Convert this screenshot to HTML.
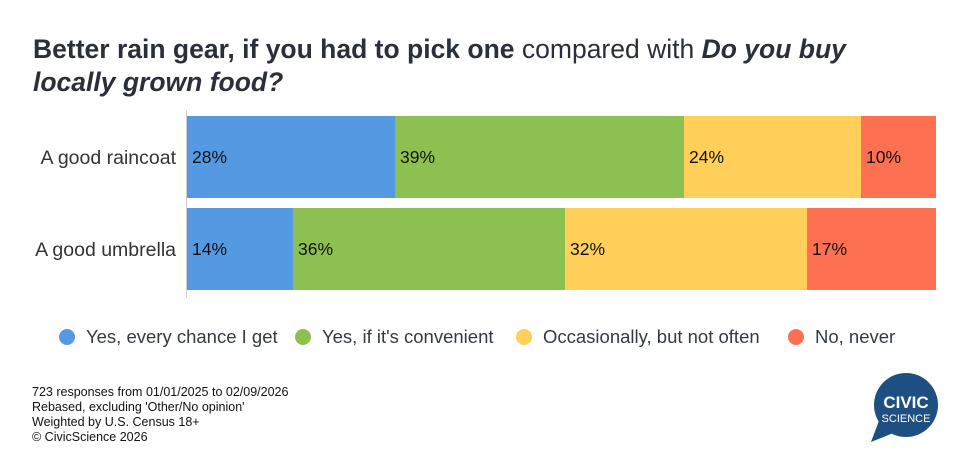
<!DOCTYPE html>
<html><head><meta charset="utf-8"><style>
body{margin:0;background:#fff;}
svg{display:block;font-family:"Liberation Sans",Arial,sans-serif;}
</style></head><body>
<svg width="966" height="476" viewBox="0 0 966 476" xmlns="http://www.w3.org/2000/svg">
<text x="33" y="58" font-size="26.5" fill="#2b2f3a"><tspan font-weight="bold">Better rain gear, if you had to pick one</tspan> compared with <tspan font-weight="bold" font-style="italic">Do you buy</tspan></text>
<text x="33" y="91" font-size="26.5" fill="#2b2f3a" font-weight="bold" font-style="italic">locally grown food?</text>
<line x1="186.5" y1="110" x2="186.5" y2="298" stroke="#ccc"/>
<g>
<rect x="187" y="116" width="208" height="82" fill="#5599e3"/>
<rect x="395" y="116" width="289" height="82" fill="#8cc152"/>
<rect x="684" y="116" width="177" height="82" fill="#ffcf5a"/>
<rect x="861" y="116" width="75" height="82" fill="#fe7052"/>
<rect x="187" y="208" width="106" height="82" fill="#5599e3"/>
<rect x="293" y="208" width="272" height="82" fill="#8cc152"/>
<rect x="565" y="208" width="242" height="82" fill="#ffcf5a"/>
<rect x="807" y="208" width="129" height="82" fill="#fe7052"/>
</g>
<g font-size="17.5" fill="#111">
<text x="192" y="163">28%</text><text x="400" y="163">39%</text><text x="689" y="163">24%</text><text x="866" y="163">10%</text>
<text x="192" y="255">14%</text><text x="298" y="255">36%</text><text x="570" y="255">32%</text><text x="812" y="255">17%</text>
</g>
<g font-size="19.5" fill="#333" text-anchor="end">
<text x="176" y="164">A good raincoat</text>
<text x="176" y="256">A good umbrella</text>
</g>
<g font-size="18.5" fill="#333a44">
<circle cx="67" cy="337" r="8" fill="#5599e3"/><text x="86" y="343">Yes, every chance I get</text>
<circle cx="303" cy="337" r="8" fill="#8cc152"/><text x="322" y="343">Yes, if it's convenient</text>
<circle cx="524" cy="337" r="8" fill="#ffcf5a"/><text x="543" y="343">Occasionally, but not often</text>
<circle cx="796" cy="337" r="8" fill="#fe7052"/><text x="815" y="343">No, never</text>
</g>
<g font-size="12.5" fill="#111">
<text x="32" y="396">723 responses from 01/01/2025 to 02/09/2026</text>
<text x="32" y="411">Rebased, excluding 'Other/No opinion'</text>
<text x="32" y="426">Weighted by U.S. Census 18+</text>
<text x="32" y="441">© CivicScience 2026</text>
</g>
<g>
<circle cx="906" cy="405" r="32" fill="#1d4f82"/>
<polygon points="880,418 871,442 896,432" fill="#1d4f82"/>
<text x="906" y="408" font-size="17" font-weight="bold" fill="#fff" text-anchor="middle">CIVIC</text>
<text x="906" y="422" font-size="11" fill="#fff" text-anchor="middle">SCIENCE</text>
</g>
</svg>
</body></html>
